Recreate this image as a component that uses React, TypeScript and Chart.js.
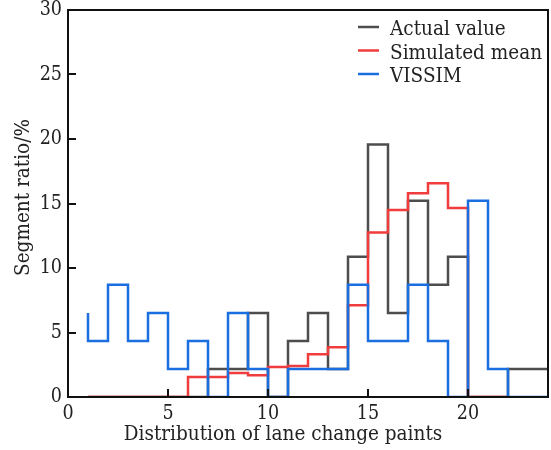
import React, { useEffect, useRef } from 'react';
import { Chart, registerables } from 'chart.js';

Chart.register(...registerables);

// Step points: value[i] is the level on the interval (x[i-1], x[i]]; value[0] is the starting level at x[0]
const xPoints = [1, 2, 3, 4, 5, 6, 7, 8, 9, 10, 11, 12, 13, 14, 15, 16, 17, 18, 19, 20, 21, 22, 23, 24];
const actualValues = [0, 0, 0, 0, 0, 0, 0, 2.17, 2.17, 6.52, 0, 4.35, 6.52, 2.17, 10.87, 19.57, 6.52, 15.22, 8.7, 10.87, 0, 0, 2.17, 2.17];
const simulatedValues = [0, 0, 0, 0, 0, 0, 1.55, 1.55, 1.86, 1.68, 2.33, 2.4, 3.32, 3.86, 7.12, 12.76, 14.5, 15.8, 16.57, 14.65, 0, 0];
const vissimValues = [6.52, 4.35, 8.7, 4.35, 6.52, 2.17, 4.35, 0, 6.52, 2.17, 0, 2.17, 2.17, 2.17, 8.7, 4.35, 4.35, 8.7, 4.35, 0, 15.22, 2.17, 0, 0];

const seriesLabels = ['Actual value', 'Simulated mean', 'VISSIM'];
const seriesColors = ['#4d4d4d', '#f03c3c', '#1a6ee0'];
const xTicks = [0, 5, 10, 15, 20];
const yTicks = [0, 5, 10, 15, 20, 25, 30];
const xTitle = 'Distribution of lane change paints';
const yTitle = 'Segment ratio/%';

const FONT = "'DejaVu Serif Condensed', 'DejaVu Serif', serif";
const TICK_SIZE = 19.5;
const TEXT_SIZE = 20.5;
const TEXT_COLOR = '#222';

function toPoints(values: number[]) {
  return values.map((v, i) => ({ x: xPoints[i], y: v }));
}

const framePlugin = {
  id: 'frameAndExtras',
  afterDatasetsDraw(chart: any) {
    const { ctx, chartArea } = chart;
    const { left, right, top, bottom } = chartArea;
    const xs = chart.scales.x;
    const ys = chart.scales.y;
    ctx.save();
    // inward ticks
    ctx.strokeStyle = '#111';
    ctx.lineWidth = 2;
    ctx.beginPath();
    for (const v of yTicks) {
      if (v === 0 || v === 30) continue;
      const py = Math.round(ys.getPixelForValue(v));
      ctx.moveTo(left, py);
      ctx.lineTo(left + 8, py);
    }
    for (const v of xTicks) {
      if (v === 0) continue;
      const px = Math.round(xs.getPixelForValue(v));
      ctx.moveTo(px, bottom);
      ctx.lineTo(px, bottom - 8);
    }
    ctx.stroke();
    // frame
    ctx.lineWidth = 2;
    ctx.strokeRect(left, top, right - left, bottom - top);

    // legend
    ctx.font = `${TEXT_SIZE}px ${FONT}`;
    ctx.textBaseline = 'middle';
    ctx.textAlign = 'left';
    seriesLabels.forEach((lab, i) => {
      const y = top + 20 + i * 23.5;
      ctx.strokeStyle = seriesColors[i];
      ctx.lineWidth = 2.5;
      ctx.beginPath();
      ctx.moveTo(right - 190, y - 3);
      ctx.lineTo(right - 169, y - 3);
      ctx.stroke();
      ctx.fillStyle = TEXT_COLOR;
      ctx.fillText(lab, right - 158, y);
    });

    // axis titles
    ctx.fillStyle = TEXT_COLOR;
    ctx.textAlign = 'center';
    ctx.textBaseline = 'middle';
    ctx.fillText(xTitle, (left + right) / 2 - 25, bottom + 38);
    ctx.translate(left - 44, (top + bottom) / 2 - 6);
    ctx.rotate(-Math.PI / 2);
    ctx.fillText(yTitle, 0, 0);
    ctx.restore();
  },
};

export default function App() {
  const ref = useRef<HTMLCanvasElement | null>(null);
  useEffect(() => {
    document.body.style.margin = '0';
    const canvas = ref.current;
    if (!canvas) return;
    const values = [actualValues, simulatedValues, vissimValues];
    const chart = new Chart(canvas, {
      type: 'line',
      data: {
        datasets: values.map((vals, i) => ({
          label: seriesLabels[i],
          data: toPoints(vals),
          borderColor: seriesColors[i],
          backgroundColor: seriesColors[i],
          borderWidth: 2.5,
          pointRadius: 0,
          stepped: 'after' as const,
          fill: false,
          order: 3 - i,
        })),
      },
      options: {
        animation: false,
        responsive: false,
        devicePixelRatio: 1,
        layout: { padding: { top: 10, right: 3, left: 0, bottom: 0 } },
        plugins: { legend: { display: false }, tooltip: { enabled: false } },
        scales: {
          x: {
            type: 'linear',
            min: 0,
            max: 24,
            afterBuildTicks: (s: any) => {
              s.ticks = xTicks.map((v) => ({ value: v }));
            },
            afterFit: (s: any) => {
              s.height = 53;
              s.paddingLeft = 0;
              s.paddingRight = 0;
            },
            grid: { display: false, drawTicks: false },
            border: { display: false },
            ticks: {
              font: { family: FONT, size: TICK_SIZE },
              color: TEXT_COLOR,
              padding: 5,
              maxRotation: 0,
              autoSkip: false,
            },
          },
          y: {
            type: 'linear',
            min: 0,
            max: 30,
            afterBuildTicks: (s: any) => {
              s.ticks = yTicks.map((v) => ({ value: v }));
            },
            afterFit: (s: any) => {
              s.width = 68;
              s.paddingTop = 0;
              s.paddingBottom = 0;
            },
            grid: { display: false, drawTicks: false },
            border: { display: false },
            ticks: {
              font: { family: FONT, size: TICK_SIZE },
              color: TEXT_COLOR,
              padding: 6,
              autoSkip: false,
            },
          },
        },
      },
      plugins: [framePlugin],
    });
    return () => chart.destroy();
  }, []);
  return (
    <div style={{ width: 551, height: 450, background: '#fff' }}>
      <canvas ref={ref} width={551} height={450} />
    </div>
  );
}
